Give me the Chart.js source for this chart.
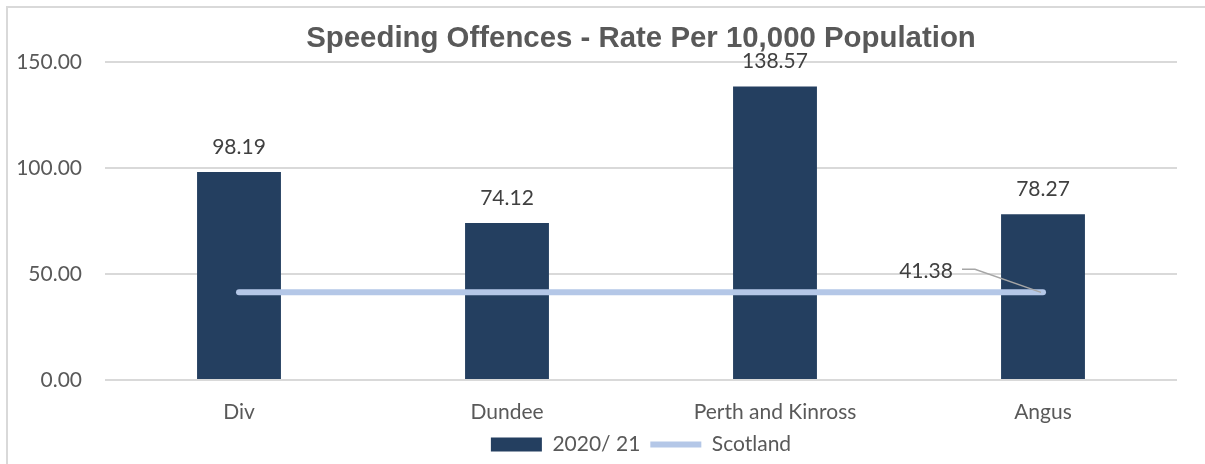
<!DOCTYPE html>
<html>
<head>
<meta charset="utf-8">
<script src="https://cdn.jsdelivr.net/npm/chart.js@4"></script>
<style>
	body { margin: 0; background: #fff; }
	#wrap {
		position: absolute; left: 6px; top: 6px;
		width: 1197px; height: 456px; overflow: hidden;
		border-left: 2px solid #d9d9d9; border-top: 2px solid #d9d9d9;
	}
</style>
</head>
<body>
<div id="wrap"><canvas id="myChart" width="1197" height="457"></canvas></div>
<script>
// chart data
const categories = ["Div", "Dundee", "Perth and Kinross", "Angus"]
const rate2021 = [98.19, 74.12, 138.57, 78.27]
const scotland = [41.38, 41.38, 41.38, 41.38]
const yTicks = [0, 50, 100, 150]

const textFont = "Lato, 'Open Sans', sans-serif"

// value labels over bars + leader label for the Scotland line
const valueLabels = {
	id: "valueLabels",
	afterDatasetsDraw: chart => {
		const ctx = chart.ctx
		ctx.save()
		ctx.font = "21px " + textFont
		ctx.fillStyle = "#404040"
		ctx.textAlign = "center"
		ctx.textBaseline = "middle"
		chart.getDatasetMeta(0).data.forEach((bar, i) => {
			ctx.fillText(rate2021[i].toFixed(2), bar.x, bar.y - 25)
		})
		const pts = chart.getDatasetMeta(1).data
		const i = pts.length - 1
		const last = pts[i]
		ctx.strokeStyle = "#a6a6a6"
		ctx.lineWidth = 1.5
		ctx.beginPath()
		ctx.moveTo(last.x - 81, last.y - 23)
		ctx.lineTo(last.x - 68, last.y - 23)
		ctx.lineTo(last.x - 2, last.y)
		ctx.stroke()
		ctx.fillText(scotland[i].toFixed(2), last.x - 117, last.y - 21)
		ctx.restore()
	},
}

const myChart = new Chart(document.querySelector("#myChart").getContext("2d"), {
	type: "bar",
	data: {
		labels: categories,
		datasets: [
			{
				label: "2020/ 21",
				data: rate2021,
				backgroundColor: "#243f60",
				borderWidth: 0,
				categoryPercentage: 1,
				barPercentage: 0.313,
				pointStyle: "rect",
				order: 1,
			},
			{
				type: "line",
				label: "Scotland",
				data: scotland,
				borderColor: "#b4c7e7",
				backgroundColor: "#b4c7e7",
				borderWidth: 6,
				borderCapStyle: "round",
				pointRadius: 0,
				pointStyle: "line",
				order: 0,
			},
		],
	},
	options: {
		responsive: false,
		animation: false,
		devicePixelRatio: 1,
		layout: { padding: { left: 0, right: 28, top: 0, bottom: 0 } },
		scales: {
			x: {
				grid: { display: false, drawTicks: false },
				border: { display: false },
				ticks: { color: "#595959", font: { family: textFont, size: 21 }, padding: 20 },
				afterFit: scale => { scale.height = 44 },
			},
			y: {
				min: 0,
				max: 150,
				afterBuildTicks: scale => { scale.ticks = yTicks.map(v => ({ value: v })) },
				grid: { color: "#d9d9d9", lineWidth: 2, drawTicks: false },
				border: { display: false },
				ticks: {
					color: "#595959",
					font: { family: textFont, size: 21 },
					padding: 23,
					callback: v => Number(v).toFixed(2),
				},
				afterFit: scale => { scale.width = 97 },
			},
		},
		plugins: {
			title: {
				display: true,
				text: "Speeding Offences - Rate Per 10,000 Population",
				fullSize: false,
				color: "#595959",
				font: { family: "'Liberation Sans', Arial, sans-serif", size: 29.4, weight: "bold", lineHeight: 1.2 },
				padding: { top: 13, bottom: 6 },
			},
			legend: {
				position: "bottom",
				fullSize: false,
				labels: {
					usePointStyle: true,
					pointStyleWidth: 51,
					boxHeight: 14,
					padding: 10,
					color: "#595959",
					font: { family: textFont, size: 21, lineHeight: 1 },
					sort: (a, b) => a.datasetIndex - b.datasetIndex,
				},
			},
			tooltip: { enabled: false },
		},
	},
	plugins: [valueLabels],
})
</script>
</body>
</html>
